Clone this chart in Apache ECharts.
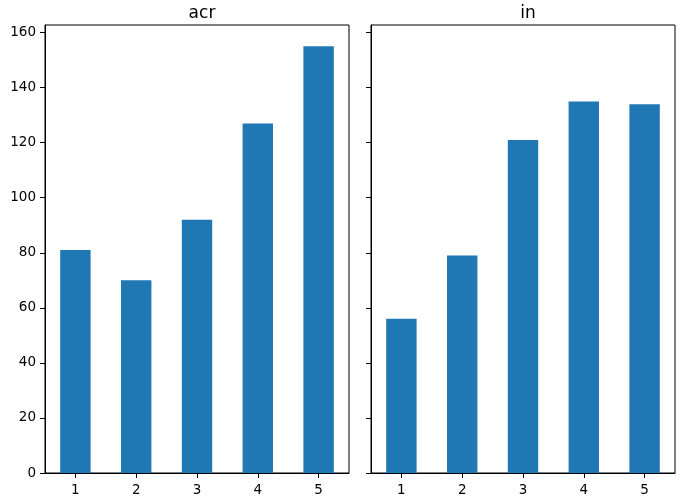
<!DOCTYPE html>
<html><head><meta charset="utf-8">
<script src="https://cdn.jsdelivr.net/npm/echarts@6/dist/echarts.min.js"></script>
<style>html,body{margin:0;padding:0;background:#fff}#c{width:683px;height:501px}</style>
</head><body><div id="c"></div>
<script>
const categories = ['1','2','3','4','5'];
const acrValues = [81, 70, 92, 127, 155];
const inValues = [56, 79, 121, 135, 134];
const yTicks = [0, 20, 40, 60, 80, 100, 120, 140, 160];
const titles = ['acr', 'in'];

const chart = echarts.init(document.getElementById('c'), null, {renderer:'canvas'});
const font = 'DejaVu Sans';
const yMax = 155 * 1.05;
function xAxis(i){
  return {type:'category', gridIndex:i, data:categories, boundaryGap:true,
    axisLine:{show:true, lineStyle:{color:'#000', width:1}},
    axisTick:{show:true, alignWithLabel:true, length:5, lineStyle:{color:'#000'}},
    axisLabel:{color:'#000', fontFamily:font, fontSize:13.5, margin:10},
    splitLine:{show:false}};
}
function yAxis(i, showLabels){
  return {type:'value', gridIndex:i, min:0, max:yMax,
    axisLine:{show:true, lineStyle:{color:'#000', width:1}},
    axisTick:{show:true, length:5, lineStyle:{color:'#000'}, customValues: yTicks},
    axisLabel:{show:showLabels, color:'#000', fontFamily:font, fontSize:13.5, margin:9, customValues: yTicks},
    splitLine:{show:false}};
}
chart.setOption({
  animation:false,
  title:[
    {text:titles[0], left:197, top:0, textAlign:'center', textStyle:{fontFamily:font, fontSize:17, fontWeight:'normal', color:'#000'}},
    {text:titles[1], left:523, top:0, textAlign:'center', textStyle:{fontFamily:font, fontSize:17, fontWeight:'normal', color:'#000'}}
  ],
  grid:[
    {left:45, right:334, top:25, bottom:28, show:true, borderColor:'#000', borderWidth:1, backgroundColor:'transparent'},
    {left:371, right:8, top:25, bottom:28, show:true, borderColor:'#000', borderWidth:1, backgroundColor:'transparent'}
  ],
  xAxis:[xAxis(0), xAxis(1)],
  yAxis:[yAxis(0, true), yAxis(1, false)],
  series:[
    {type:'bar', xAxisIndex:0, yAxisIndex:0, data:acrValues, barWidth:'50%', itemStyle:{color:'#1f77b4'}},
    {type:'bar', xAxisIndex:1, yAxisIndex:1, data:inValues, barWidth:'50%', itemStyle:{color:'#1f77b4'}}
  ]
});
</script></body></html>
